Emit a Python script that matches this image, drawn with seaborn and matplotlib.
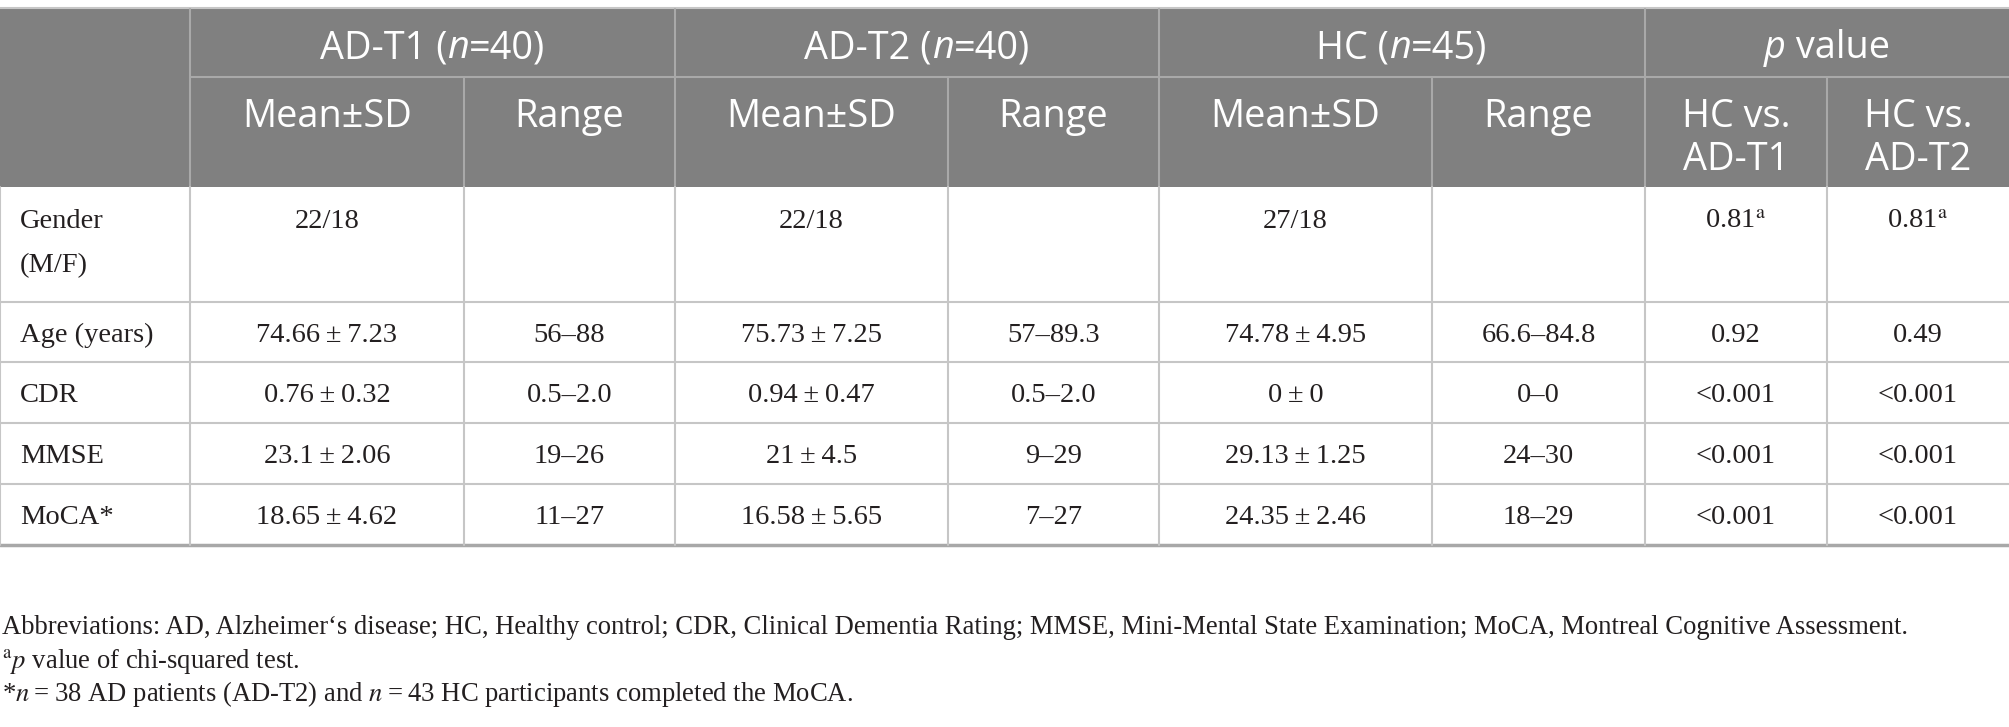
import numpy as np
import pandas as pd
import matplotlib
matplotlib.use("Agg")
import matplotlib.pyplot as plt
import seaborn as sns
from matplotlib.offsetbox import TextArea, HPacker, AnnotationBbox

sns.set_theme(style="white")
plt.rcParams['font.family'] = ['Liberation Serif', 'DejaVu Serif']
plt.rcParams['mathtext.fontset'] = 'stix'

# ---------------- data ----------------
groups = ['AD-T1', 'AD-T2', 'HC']
group_n = [40, 40, 45]
variables = ['Gender', 'Age (years)', 'CDR', 'MMSE', 'MoCA*']
T = '\u2009'
ad_t1_mean = ['22/18', f'74.66{T}±{T}7.23', f'0.76{T}±{T}0.32', f'23.1{T}±{T}2.06', f'18.65{T}±{T}4.62']
ad_t1_range = ['', '56–88', '0.5–2.0', '19–26', '11–27']
ad_t2_mean = ['22/18', f'75.73{T}±{T}7.25', f'0.94{T}±{T}0.47', f'21{T}±{T}4.5', f'16.58{T}±{T}5.65']
ad_t2_range = ['', '57–89.3', '0.5–2.0', '9–29', '7–27']
hc_mean = ['27/18', f'74.78{T}±{T}4.95', f'0{T}±{T}0', f'29.13{T}±{T}1.25', f'24.35{T}±{T}2.46']
hc_range = ['', '66.6–84.8', '0–0', '24–30', '18–29']
p_hc_t1 = ['0.81$^{\\mathrm{a}}$', '0.92', '<0.001', '<0.001', '<0.001']
p_hc_t2 = ['0.81$^{\\mathrm{a}}$', '0.49', '<0.001', '<0.001', '<0.001']

footnotes = [
    "Abbreviations: AD, Alzheimer‘s disease; HC, Healthy control; CDR, Clinical Dementia Rating; "
    "MMSE, Mini-Mental State Examination; MoCA, Montreal Cognitive Assessment.",
    "${}^{\\mathrm{a}}p$ value of chi-squared test.",
    f"*$n${T}={T}38 AD patients (AD-T2) and $n${T}={T}43 HC participants completed the MoCA.",
]

body_cols = [ad_t1_mean, ad_t1_range, ad_t2_mean, ad_t2_range,
             hc_mean, hc_range, p_hc_t1, p_hc_t2]

# ---------------- layout (pixels) ----------------
W, H = 2009, 727
col_edges = [0, 190, 464, 675, 948, 1159, 1432, 1645, 1827, 2009]
row_edges = [187, 302, 362, 423, 484, 545]
head_top, head_mid, head_bot = 9, 77, 187

HEAD_BG = '#808080'
HEAD_LINE = '#a9a9a9'
BODY_LINE = '#c6c6c6'
TXT = '#231f20'
HEAD_FONT = 'Open Sans'
HEAD_SIZE = 27.3
BODY_SIZE = 20.5
NOTE_SIZE = 19.2

fig = plt.figure(figsize=(W / 100, H / 100), dpi=100)
ax = fig.add_axes([0, 0, 1, 1])
ax.set_xlim(0, W)
ax.set_ylim(H, 0)
ax.axis('off')


def rich(x, y, parts, size, color, family):
    boxes = [TextArea(s, textprops=dict(fontsize=size, color=color, family=family, style=st))
             for s, st in parts]
    pack = HPacker(children=boxes, align='baseline', pad=0, sep=0)
    ab = AnnotationBbox(pack, (x, y), xycoords='data', box_alignment=(0.5, 0.5),
                        frameon=False, pad=0)
    ax.add_artist(ab)


# header background
ax.add_patch(plt.Rectangle((0, head_top), col_edges[-1], head_bot - head_top,
                           facecolor=HEAD_BG, edgecolor='none', zorder=0))
ax.plot([0, col_edges[-1]], [head_top - 1, head_top - 1], color=BODY_LINE, lw=1.5)

# header lines
span_edges = [col_edges[1], col_edges[3], col_edges[5], col_edges[7], col_edges[9]]
ax.plot([col_edges[1], col_edges[-1]], [head_mid, head_mid], color=HEAD_LINE, lw=1.5)
for xe in span_edges[:-1]:
    ax.plot([xe, xe], [head_top, head_bot], color=HEAD_LINE, lw=1.5)
for xe in [col_edges[2], col_edges[4], col_edges[6], col_edges[8]]:
    ax.plot([xe, xe], [head_mid, head_bot], color=HEAD_LINE, lw=1.5)

# header text
for i, (g, n) in enumerate(zip(groups, group_n)):
    xc = (span_edges[i] + span_edges[i + 1]) / 2
    rich(xc, 48, [(f'{g} (', 'normal'), ('n', 'italic'), (f'={n})', 'normal')],
         HEAD_SIZE, 'white', HEAD_FONT)
rich((span_edges[3] + span_edges[4]) / 2, 48, [('p', 'italic'), (' value', 'normal')],
     HEAD_SIZE, 'white', HEAD_FONT)

sub_headers = ['Mean±SD', 'Range'] * 3
for j, s in enumerate(sub_headers):
    xc = (col_edges[j + 1] + col_edges[j + 2]) / 2
    ax.text(xc, 117, s, ha='center', va='center', color='white',
            fontsize=HEAD_SIZE, family=HEAD_FONT)
for j, s in enumerate(['AD-T1', 'AD-T2']):
    xc = (col_edges[7 + j] + col_edges[8 + j]) / 2
    ax.text(xc, 117, 'HC vs.', ha='center', va='center', color='white',
            fontsize=HEAD_SIZE, family=HEAD_FONT)
    ax.text(xc, 160, s, ha='center', va='center', color='white',
            fontsize=HEAD_SIZE, family=HEAD_FONT)

# body grid
for ye in row_edges[1:-1]:
    ax.plot([0, col_edges[-1]], [ye, ye], color=BODY_LINE, lw=1.5)
ax.plot([0, col_edges[-1]], [row_edges[-1], row_edges[-1]], color='#a8a8a8', lw=2.5)
for xe in col_edges[:-1]:
    ax.plot([xe, xe], [row_edges[0], row_edges[-1]], color=BODY_LINE, lw=1.5)

# body text
for r, var in enumerate(variables):
    y0, y1 = row_edges[r], row_edges[r + 1]
    yc = 222 if r == 0 else (y0 + y1) / 2 + 3
    ax.text(20, yc, var, ha='left', va='center', color=TXT, fontsize=BODY_SIZE)
    if r == 0:
        ax.text(20, 266, '(M/F)', ha='left', va='center', color=TXT, fontsize=BODY_SIZE)
    for j, col in enumerate(body_cols):
        xc = (col_edges[j + 1] + col_edges[j + 2]) / 2
        ax.text(xc, yc, col[r], ha='center', va='center', color=TXT, fontsize=BODY_SIZE)

# footnotes
for k, note in enumerate(footnotes):
    ax.text(2, 628 + 33 * k, note, ha='left', va='center', color=TXT, fontsize=NOTE_SIZE)

fig.savefig('out.png', dpi=100)
